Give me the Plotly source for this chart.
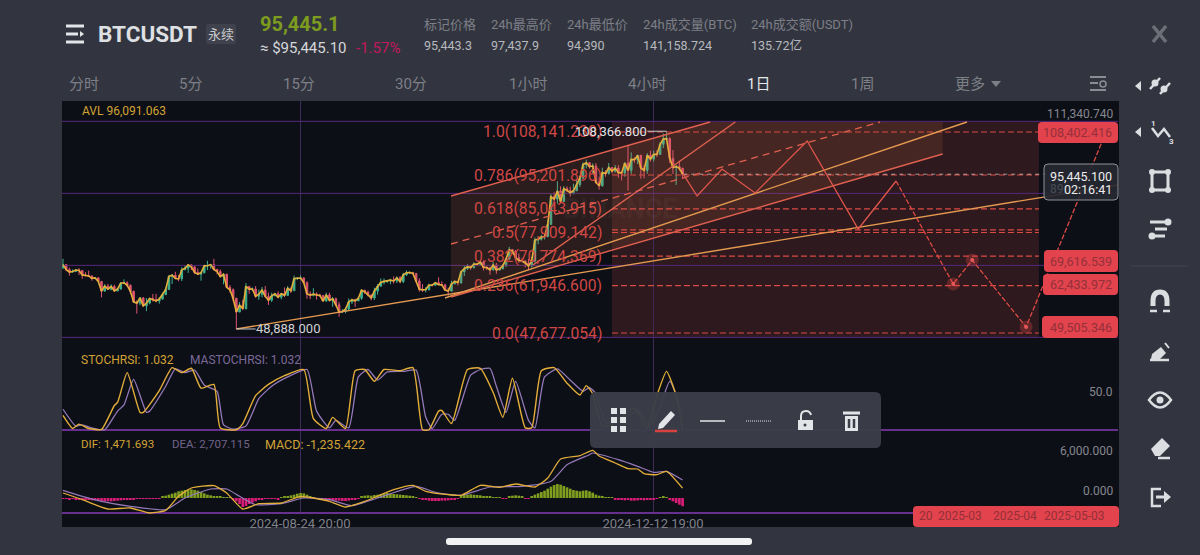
import pandas as pd
import plotly.graph_objects as go

# daily candles
opens = [67300, 68250, 66750, 66000, 66190, 66630, 66490, 65150, 64960, 64830, 64100, 64250, 63180, 60270, 61800, 60860, 61670, 60310, 60920,
    62670, 62770, 62020, 60200, 57050, 56640, 58230, 55850, 56700, 58040, 57720, 57340, 57890, 59200, 60790, 64720, 65040, 64090, 63980, 66690, 67150, 68160, 67540, 65930, 65370, 65770, 67900, 67900, 68250, 66780, 66180,
    64620, 65350, 61420, 60680, 58110, 53990, 56030, 55020, 61680, 60860, 60920, 58710, 59330, 60590, 58680, 57540, 58870, 59490, 58440, 59490, 59010, 61150, 60380, 64040, 64160, 64220, 62820, 59420, 59030, 59370, 59120,
    58970, 57300, 59130, 57480, 57970, 56160, 53950, 54160, 54870, 57050, 57640, 57340, 58130, 60540, 60010, 59130, 58210, 60310, 61760, 62940, 63200, 63350, 63580, 63330, 64260, 63140, 65180, 65780, 65860, 65600,
    63330, 60810, 60650, 60750, 62080, 62060, 62820, 62220, 62130, 60580, 60270, 62440, 63190, 62850, 66050, 67040, 67610, 67370, 68420, 68360, 69000, 67360, 67360, 66650, 68160, 66640, 67010, 67930, 69900, 72720, 72340,
    70290, 69500, 69350, 68740, 67800, 69360, 75640, 75900, 76540, 76680, 80370, 88650, 87950, 90370, 87250, 91060, 90580, 89850, 90460, 92310, 94290, 98350, 98900, 97700, 97900, 93010, 91960, 95960, 95640, 97440,
    96400, 97280, 95860, 95840, 98770, 96600, 99880, 99830, 101110, 97320, 96590, 101130, 99980, 101420, 101400, 104450, 106060, 106130, 100200, 97460, 97750, 97220]
highs = [70000, 68450, 67350, 66800, 66950, 67200, 65700, 66000, 66450, 65050, 64500, 64500, 63350, 62350, 62450, 62300, 62200, 61200, 63000,
    63800, 63250, 62300, 60450, 57500, 58500, 58450, 58200, 58300, 59450, 59450, 58500, 59800, 61400, 65000, 65400, 66100, 65100, 67450, 67800, 68400, 68450, 67800, 67100, 66100, 68200, 69400, 68300, 70000, 67000, 66800,
    65600, 65550, 62100, 61100, 58300, 57000, 57700, 62700, 61700, 61400, 61800, 60700, 61500, 61800, 59800, 59800, 59600, 60200, 59600, 61400, 61800, 61400, 64950, 64500, 65000, 64450, 63200, 60200, 61150, 59900, 59450,
    59000, 59800, 59800, 58500, 58300, 57000, 54850, 55300, 58100, 58000, 58000, 58600, 60650, 60650, 60400, 59200, 61300, 62400, 64100, 64100, 63550, 64000, 64700, 64700, 64800, 65800, 66500, 66250, 66050, 65600,
    64150, 62400, 61450, 62500, 62400, 63000, 64450, 63200, 62500, 61300, 63400, 63450, 63300, 66450, 67900, 68400, 68000, 68950, 68650, 69400, 69500, 67800, 67450, 69000, 68750, 67300, 68300, 70200, 73600, 72950, 72650,
    71600, 70300, 69450, 70000, 70550, 76400, 76800, 77200, 77000, 81500, 89500, 90000, 93300, 91800, 91850, 91800, 91700, 92600, 94000, 94900, 99000, 99800, 99000, 98700, 98800, 94700, 97400, 96650, 98800, 97450,
    98200, 98200, 96300, 99000, 104000, 102000, 100500, 101300, 101300, 98200, 101800, 102500, 102500, 102600, 105100, 107700, 108366, 106500, 102700, 98200, 99500, 97400]
lows = [66900, 66300, 64900, 65900, 66000, 65100, 64000, 64650, 64500, 63400, 63900, 63180, 58400, 60250, 60600, 60500, 60000, 60300, 60700,
    62450, 61750, 59400, 56800, 53500, 56000, 55700, 54250, 56300, 57100, 56900, 56500, 57700, 59200, 60600, 62400, 63900, 63200, 63300, 66600, 65750, 66600, 65400, 65100, 63400, 65700, 66600, 67000, 66500, 65300, 64500,
    62300, 61200, 59850, 57200, 48888, 53950, 54500, 54700, 59500, 60250, 58300, 57650, 58400, 58400, 56100, 57000, 58750, 58400, 57800, 58500, 58800, 59700, 60350, 63600, 63800, 62800, 58000, 57850, 58700, 57750, 58500,
    57200, 57100, 57200, 55550, 55650, 52550, 53750, 53600, 54550, 56400, 55550, 57300, 57650, 59450, 58700, 57500, 57600, 59200, 61700, 62300, 62750, 62350, 62550, 62700, 62650, 62700, 64800, 65400, 65400, 62900,
    60100, 60000, 59900, 60400, 61700, 61800, 62100, 61800, 60300, 58900, 60400, 62400, 62000, 62400, 64800, 66700, 66700, 67000, 67900, 68100, 66500, 66600, 65200, 66500, 65500, 66500, 66800, 67500, 69700, 71400, 69600,
    68800, 68900, 67400, 66700, 67400, 68800, 74400, 75500, 75800, 76500, 80200, 85100, 86600, 86650, 87100, 90100, 88700, 89350, 90900, 91600, 94000, 97200, 97100, 95700, 92600, 90800, 91700, 94700, 95300, 95700,
    95900, 94400, 93600, 94700, 90500, 95500, 98900, 98500, 94100, 94200, 95600, 99300, 99200, 100600, 101200, 103300, 105300, 98800, 95500, 92200, 96500, 94390]
closes = [68250, 66750, 66000, 66190, 66630, 66490, 65150, 64960, 64830, 64100, 64250, 63180, 60270, 61800, 60860, 61670, 60310, 60920, 62670,
    62770, 62020, 60200, 57050, 56640, 58230, 55850, 56700, 58040, 57720, 57340, 57890, 59200, 60790, 64720, 65040, 64090, 63980, 66690, 67150, 68160, 67540, 65930, 65370, 65770, 67900, 67900, 68250, 66780, 66180, 64620,
    65350, 61420, 60680, 58110, 53990, 56030, 55020, 61680, 60860, 60920, 58710, 59330, 60590, 58680, 57540, 58870, 59490, 58440, 59490, 59010, 61150, 60380, 64040, 64160, 64220, 62820, 59420, 59030, 59370, 59120, 58970,
    57300, 59130, 57480, 57970, 56160, 53950, 54160, 54870, 57050, 57640, 57340, 58130, 60540, 60010, 59130, 58210, 60310, 61760, 62940, 63200, 63350, 63580, 63330, 64260, 63140, 65180, 65780, 65860, 65600, 63330,
    60810, 60650, 60750, 62080, 62060, 62820, 62220, 62130, 60580, 60270, 62440, 63190, 62850, 66050, 67040, 67610, 67370, 68420, 68360, 69000, 67360, 67360, 66650, 68160, 66640, 67010, 67930, 69900, 72720, 72340, 70290,
    69500, 69350, 68740, 67800, 69360, 75640, 75900, 76540, 76680, 80370, 88650, 87950, 90370, 87250, 91060, 90580, 89850, 90460, 92310, 94290, 98350, 98900, 97700, 97900, 93010, 91960, 95960, 95640, 97440, 96400,
    97280, 95860, 95840, 98770, 96600, 99880, 99830, 101110, 97320, 96590, 101130, 99980, 101420, 101400, 104450, 106060, 106130, 100200, 97460, 97750, 97220, 95445]
dates = pd.date_range("2024-06-12", periods=len(closes))

# indicator key points: index of the day, value
stoch_days = [0, 3, 5, 8, 12, 16, 17, 20, 24, 25, 30, 34, 37, 40, 43, 47, 49, 54, 56, 60, 64, 69, 75, 78, 82, 84, 88, 91, 94, 97, 100, 105, 109, 112, 114, 117, 118, 121, 126, 130, 134, 137, 140, 144, 146, 149, 153, 157, 161, 163, 165, 168, 171, 178, 182, 185, 188, 191, 193]
stoch = [23, 2, 9, 2, 0.5, 39, 44, 92, 28, 28, 63, 100, 92, 99, 67, 73, 3, 0, 10, 55, 73, 87, 97, 18, 2, 20, 2, 95, 97, 78, 97, 95, 100, 0, 0, 30, 31, 10, 97, 99, 60, 20, 83, 3, 3, 95, 100, 75, 56, 71, 58, 6, 8, 35, 3, 55, 94, 55, 1]
mastoch_days = [0, 4, 6, 9, 13, 17, 19, 22, 26, 27, 32, 35, 38, 41, 44, 48, 50, 53, 57, 61, 65, 70, 76, 79, 83, 85, 89, 92, 95, 98, 101, 106, 110, 113, 115, 118, 120, 122, 127, 130, 133, 135, 138, 141, 145, 147, 150, 154, 158, 162, 164, 166, 169, 172, 179, 183, 186, 189, 193]
mastoch = [33, 6, 8, 3, 0, 30, 40, 81, 28, 30, 70, 98, 92, 96, 72, 62, 8, 1, 6, 50, 70, 85, 97, 30, 3, 15, 3, 85, 97, 80, 93, 94, 96, 20, 2, 25, 25, 15, 88, 97, 99, 70, 28, 78, 15, 3, 85, 98, 80, 62, 68, 58, 12, 10, 30, 8, 38, 78, 25]
dif_days = [0, 6, 10, 14, 21, 27, 32, 36, 40, 47, 51, 56, 61, 68, 74, 78, 83, 88, 94, 103, 109, 113, 120, 124, 130, 136, 141, 147, 151, 155, 161, 165, 167, 172, 176, 179, 181, 185, 188, 193]
dif = [750, -250, -1000, -1650, -1500, -2250, -1850, 250, 1500, 1850, 750, -1650, -850, -750, 250, 0, -500, -1350, -500, 1250, 1900, 1000, 500, 400, 1900, 1600, 2100, 1650, 3000, 5850, 6350, 7150, 6300, 5250, 4400, 4350, 3650, 3500, 4000, 1471]
dea_days = [0, 6, 12, 21, 32, 38, 46, 51, 55, 60, 68, 75, 83, 90, 98, 110, 116, 124, 133, 143, 152, 157, 164, 165, 173, 179, 184, 188, 193]
dea = [1150, 250, -500, -1250, -1750, 0, 1350, 1350, 250, -1000, -850, 0, -250, -1150, 0, 1750, 850, 400, 1650, 1750, 2500, 5000, 6500, 6750, 5750, 4750, 3850, 4000, 2707]
macd = [-150, -100, -200, -150, -200, -250, -250, -300, -300, -350, -350, -400, -450, -500, -500, -500, -450, -400, -350, -300, -250, -200, -200, -150, -100, -100, -100, -100, -80, -100, -100,
    200, 350, 500, 650, 800, 1000, 1100, 1200, 1300, 1300, 1200, 1100, 900, 700, 500, 400, 300, 250, 200, 100, 80, 60,
    -200, -500, -900, -1350, -1200, -900, -700, -500, -300, -200, -100, -80, -100, -150, -200,
    150, 250, 300, 400, 500, 650, 750, 700, 500, 300, 100,
    -100, -200, -250, -300, -350, -400, -400, -400, -450, -450, -400, -300, -250, -150,
    200, 350, 400, 350, 450, 500, 600, 700, 750, 700, 600, 550, 500, 450, 400, 350, 250, 150,
    -100, -200, -300, -400, -450, -450, -450, -400, -400, -350, -300, -250, -150,
    300, 500, 500, 550, 500, 450, 400, 300, 250, 200, 150, 100, 80, -100, -150, 250, 350, 400, 350, 200, -150, -100,
    300, 500, 700, 900, 1100, 1400, 1700, 1950, 2100, 2000, 1800, 1600, 1400, 1200, 1100, 1000, 1100, 1150, 1000, 800, 500, 350, 250, 150, 100, 60,
    -200, -250, -300, -350, -300, -400, -400, -350, -300, -350, -300, -250, -200, -150, 150, 200, 150, -300, -500, -750, -1000, -1235]

# drawings on the price panel
fib_levels = [108141.23, 95201.896, 85043.915, 78700, 77909.142, 70774.369, 61946.6, 47677.054]
fib_labels = ["1.0(108,141.230)", "0.786(95,201.896)", "0.618(85,043.915)", "", "0.5(77,909.142)", "0.382(70,774.369)", "0.236(61,946.600)", "0.0(47,677.054)"]
fib_x = ["2024-11-30", "2025-04-12"]
box_top, box_bottom = 111340.74, 46360
price_grid = [111340.74, 89680, 68020, 46360]
channel_x = ["2024-10-10 21:00", "2024-12-30 14:00", "2025-03-13", "2025-03-13", "2024-10-10 21:00"]
channel_y = [88887, 111146, 111146, 101520, 58506]
mid_x, mid_y = ["2024-10-10 21:00", "2025-02-21 12:00"], [74448, 111146]
trend_orange = [(["2024-08-05", "2025-05-06 15:00"], [48888, 92195]), (["2024-10-09", "2025-03-20 14:00"], [58205, 111146])]
trend_red = [(["2024-11-05 10:00", "2025-01-07 10:00"], [68131, 111146]), (["2024-10-10 21:00", "2024-12-30 14:00"], [88887, 111146]), (["2024-10-10 21:00", "2025-03-13"], [58506, 101520])]
path_x = ["2024-12-22 05:00", "2024-12-26 12:00", "2025-01-03 07:00", "2025-01-13 14:00", "2025-01-29 19:00", "2025-02-14 17:00", "2025-02-26 12:00", "2025-03-16 07:00", "2025-03-22 05:00", "2025-04-08", "2025-05-03"]
path_y = [95445, 88887, 97008, 89789, 105431, 78960, 93399, 62433.972, 69616.539, 49505.346, 108402.416]
last_price = 95445.1

W, H = 1200, 555
BG = "#32353f"
PANEL = "#0d0f17"
RED = "#dc4a44"
ORANGE = "#e59a50"
YELLOW = "#e3ae3a"
PURPLE = "#9479b8"
TEXT = "Roboto, 'Noto Sans CJK SC', sans-serif"
shapes = []
notes = []


def fx(x):
    return x / W


def fy(y):
    return 1 - y / H


def text(x, y, s, size=12, color="#8a8c94", anchor="left", bold=False):
    notes.append(dict(x=fx(x), y=fy(y), xref="paper", yref="paper", text=f"<b>{s}</b>" if bold else s, showarrow=False,
                      xanchor=anchor, yanchor="middle", borderpad=0, borderwidth=0, font=dict(size=size, color=color, family=TEXT)))


def rbox(x0, y0, x1, y1, r, fill, line=None, layer="above"):
    p = (f"M{fx(x0 + r)},{fy(y0)} L{fx(x1 - r)},{fy(y0)} Q{fx(x1)},{fy(y0)} {fx(x1)},{fy(y0 + r)} "
         f"L{fx(x1)},{fy(y1 - r)} Q{fx(x1)},{fy(y1)} {fx(x1 - r)},{fy(y1)} L{fx(x0 + r)},{fy(y1)} "
         f"Q{fx(x0)},{fy(y1)} {fx(x0)},{fy(y1 - r)} L{fx(x0)},{fy(y0 + r)} Q{fx(x0)},{fy(y0)} {fx(x0 + r)},{fy(y0)} Z")
    shapes.append(dict(type="path", path=p, xref="paper", yref="paper", fillcolor=fill, layer=layer,
                       line=dict(color=line or "rgba(0,0,0,0)", width=1)))


def poly(pts, fill=None, line=None, w=2, close=True):
    p = "M" + " L".join(f"{fx(a)},{fy(b)}" for a, b in pts) + (" Z" if close else "")
    shapes.append(dict(type="path", path=p, xref="paper", yref="paper", fillcolor=fill or "rgba(0,0,0,0)", layer="above",
                       line=dict(color=line or "rgba(0,0,0,0)", width=w)))


def dot(x, y, r, fill=None, line=None, w=2):
    shapes.append(dict(type="circle", xref="paper", yref="paper", x0=fx(x - r), x1=fx(x + r), y0=fy(y + r), y1=fy(y - r),
                       fillcolor=fill or "rgba(0,0,0,0)", layer="above", line=dict(color=line or "rgba(0,0,0,0)", width=w)))


fig = go.Figure()

# price grid as lines, they came out grey as axis grid
for level in price_grid:
    fig.add_trace(go.Scatter(x=["2024-06-11 16:40", "2025-05-06 15:00"], y=[level, level], mode="lines", line=dict(color="#55297a", width=1), yaxis="y"))

# shaded zones first so the candles stay on top
fig.add_trace(go.Scatter(x=channel_x, y=channel_y, fill="toself", fillcolor="rgba(226,120,70,0.14)", mode="none", yaxis="y"))
shapes.append(dict(type="rect", xref="x", yref="y", x0=fib_x[0], x1=fib_x[1], y0=box_bottom, y1=box_top,
                   fillcolor="rgba(205,80,65,0.17)", line=dict(width=0), layer="below"))

for level in fib_levels:
    fig.add_trace(go.Scatter(x=fib_x, y=[level, level], mode="lines", line=dict(color=RED, width=1.2, dash="6px,3px"), yaxis="y"))
fig.add_trace(go.Scatter(x=[path_x[0], "2025-05-06"], y=[last_price, last_price], mode="lines",
                         line=dict(color="rgba(255,255,255,0.55)", width=1, dash="4px,4px"), yaxis="y"))

fig.add_trace(go.Candlestick(x=dates, open=opens, high=highs, low=lows, close=closes, yaxis="y",
                             increasing=dict(line=dict(color="#3fb08d", width=1), fillcolor="#3fb08d"),
                             decreasing=dict(line=dict(color="#dd5470", width=1), fillcolor="#dd5470")))
fig.add_trace(go.Scatter(x=dates, y=closes, mode="lines", line=dict(color=YELLOW, width=1.6), yaxis="y"))

for tx, ty in trend_orange:
    fig.add_trace(go.Scatter(x=tx, y=ty, mode="lines", line=dict(color=ORANGE, width=1.4), yaxis="y"))
for tx, ty in trend_red:
    fig.add_trace(go.Scatter(x=tx, y=ty, mode="lines", line=dict(color="#e0604f", width=1.4), yaxis="y"))
fig.add_trace(go.Scatter(x=mid_x, y=mid_y, mode="lines", line=dict(color="#e0604f", width=1.3, dash="7px,5px"), yaxis="y"))

fig.add_trace(go.Scatter(x=path_x[:7], y=path_y[:7], mode="lines", line=dict(color="#e0564c", width=1.3), yaxis="y"))
fig.add_trace(go.Scatter(x=path_x[6:], y=path_y[6:], mode="lines", line=dict(color=RED, width=1.3, dash="5px,2px"), yaxis="y"))
fig.add_trace(go.Scatter(x=path_x[7:10], y=path_y[7:10], mode="markers", marker=dict(color="rgba(224,70,70,0.3)", size=13), yaxis="y"))
fig.add_trace(go.Scatter(x=path_x[7:10], y=path_y[7:10], mode="markers", marker=dict(color="#e8585a", size=4), yaxis="y"))

# extreme price markers
fig.add_trace(go.Scatter(x=["2024-08-05", "2024-08-11"], y=[48888, 48888], mode="lines", line=dict(color="#c9cacd", width=1), yaxis="y"))
fig.add_trace(go.Scatter(x=["2024-12-11", "2024-12-17"], y=[108366.8, 108366.8], mode="lines", line=dict(color="#c9cacd", width=1), yaxis="y"))

fig.add_trace(go.Scatter(x=dates[mastoch_days], y=mastoch, mode="lines", line=dict(color=PURPLE, width=1.3, shape="spline", smoothing=0.5), yaxis="y2"))
fig.add_trace(go.Scatter(x=dates[stoch_days], y=stoch, mode="lines", line=dict(color=YELLOW, width=1.4, shape="spline", smoothing=0.5), yaxis="y2"))

fig.add_trace(go.Bar(x=dates, y=macd, width=72000000, marker=dict(color=["#7f9e1f" if v > 0 else "#d81c78" for v in macd], line=dict(width=0)), yaxis="y3"))
fig.add_trace(go.Scatter(x=dates[dea_days], y=dea, mode="lines", line=dict(color=PURPLE, width=1.2, shape="spline", smoothing=0.5), yaxis="y3"))
fig.add_trace(go.Scatter(x=dates[dif_days], y=dif, mode="lines", line=dict(color=YELLOW, width=1.3, shape="spline", smoothing=0.5), yaxis="y3"))


# panel labels that follow the scales
def axis_label(y, yref, s, color="#85878f"):
    notes.append(dict(x=fx(1113), y=y, xref="paper", yref=yref, yshift=7, text=s, showarrow=False, xanchor="right", yanchor="middle",
                      borderpad=0, borderwidth=0, font=dict(size=12, color=color, family=TEXT)))


axis_label(111340.74, "y", "111,340.740")
axis_label(50, "y2", "50.0")
axis_label(6000, "y3", "6,000.000")
axis_label(0, "y3", "0.000")

for level, label in zip(fib_levels, fib_labels):
    notes.append(dict(x=fx(602), y=level, xref="paper", yref="y", text=label, showarrow=False, xanchor="right", yanchor="middle",
                      borderpad=0, borderwidth=0, font=dict(size=15.7, color="#cf4744", family=TEXT)))
notes.append(dict(x="2024-12-11", y=108366.8, xref="x", yref="y", text="108,366.800", showarrow=False, xanchor="right", yanchor="middle",
                  borderpad=0, borderwidth=0, font=dict(size=13, color="#e2e3e6", family=TEXT)))
notes.append(dict(x="2024-08-11", y=48888, xref="x", yref="y", text="48,888.000", showarrow=False, xanchor="left", yanchor="middle",
                  borderpad=0, borderwidth=0, font=dict(size=13, color="#d0d1d4", family=TEXT)))

text(620, 209, "BINANCE", 27, "rgba(255,255,255,0.05)", "center", True)
text(82, 111, "AVL 96,091.063", 12, "#d2a334")
text(81, 360, "STOCHRSI: 1.032", 12, "#d2a334")
text(190, 360, "MASTOCHRSI: 1.032", 12, "#7b6a98")
text(81, 444, "DIF: 1,471.693", 11.5, "#d2a334")
text(172, 444, "DEA: 2,707.115", 11.5, "#6f6488")
text(265, 444, "MACD: -1,235.422", 12.5, "#d2a334")

# header
poly([(66, 26), (84, 26)], line="#e4e5e8", w=3, close=False)
poly([(66, 34), (78, 34)], line="#e4e5e8", w=3, close=False)
poly([(66, 42), (84, 42)], line="#e4e5e8", w=3, close=False)
poly([(80, 31), (84, 34), (80, 37)], fill="#e4e5e8")
text(98, 34, "BTCUSDT", 22.5, "#dfe0e3", bold=True)
rbox(206, 24, 236, 44, 2, "#3f424c")
text(221, 34, "永续", 13, "#c9cacd", "center")
text(260, 24, "95,445.1", 20, "#7d9b1e", bold=True)
text(260, 48, "≈ $95,445.10", 15, "#d6d7da")
text(356, 48, "-1.57%", 15, "#c2185b")
stat_x = [424, 491, 567, 643, 751]
stat_names = ["标记价格", "24h最高价", "24h最低价", "24h成交量(BTC)", "24h成交额(USDT)"]
stat_vals = ["95,443.3", "97,437.9", "94,390", "141,158.724", "135.72亿"]
for sx, sn, sv in zip(stat_x, stat_names, stat_vals):
    text(sx, 24, sn, 13, "#7d7f87")
    text(sx, 45, sv, 12.5, "#b7b9be")

tab_x = [84, 190, 299, 411, 528, 647, 759, 862, 970]
tab_names = ["分时", "5分", "15分", "30分", "1小时", "4小时", "1日", "1周", "更多"]
for tx, tn in zip(tab_x, tab_names):
    text(tx, 84, tn, 15, "#e6e7ea" if tn == "1日" else "#7d7f87", "center")
poly([(991, 81), (1001, 81), (996, 87)], fill="#7d7f87")
poly([(1090, 77), (1106, 77)], line="#8a8c94", w=2, close=False)
poly([(1090, 83), (1098, 83)], line="#8a8c94", w=2, close=False)
poly([(1090, 90), (1106, 90)], line="#8a8c94", w=2, close=False)
dot(1103, 84, 3, None, "#8a8c94", 1.5)

# price tags on the right edge
tag_box = [(1038, 122, 1118, 143), (1044, 250, 1118, 272), (1043, 274, 1118, 295), (1042, 316, 1118, 338)]
tag_text = ["108,402.416", "69,616.539", "62,433.972", "49,505.346"]
for (a, b, c, d), s in zip(tag_box, tag_text):
    rbox(a, b, c, d, 4, "#e2434c")
    text(1112, (b + d) / 2, s, 12.5, "#94303a", "right")
rbox(1044, 164, 1118, 200, 4, "rgba(38,40,50,0.92)", "#8f9198")
text(1050, 189, "89", 12, "#4a4c55")
text(1112, 176, "95,445.100", 12.5, "#eceded", "right")
text(1112, 189, "02:16:41", 12.5, "#eceded", "right")
rbox(913, 506, 1119, 527, 4, "#e2434c")
for dx, ds in zip([919, 938, 993, 1044], ["20", "2025-03", "2025-04", "2025-05-03"]):
    text(dx, 516, ds, 12, "#94303a")

# floating tool bar
rbox(590, 392, 881, 448, 6, "rgba(59,62,72,0.97)")
for gx in (614, 623):
    for gy in (411, 420, 429):
        poly([(gx - 3, gy - 3), (gx + 3, gy - 3), (gx + 3, gy + 3), (gx - 3, gy + 3)], fill="#e3e4e7", w=0)
poly([(659, 424), (671, 411), (675, 415), (663, 428), (658, 429)], fill="#e3e4e7")
poly([(655, 431), (677, 431)], line="#d9413f", w=2.5, close=False)
poly([(700, 421), (725, 421)], line="#e3e4e7", w=1.5, close=False)
shapes.append(dict(type="line", xref="paper", yref="paper", x0=fx(746), x1=fx(771), y0=fy(421), y1=fy(421), layer="above",
                   line=dict(color="#e3e4e7", width=1.2, dash="1px,1px")))
poly([(798, 420), (813, 420), (813, 430), (798, 430)], fill="#e3e4e7")
shapes.append(dict(type="path", xref="paper", yref="paper", layer="above", fillcolor="rgba(0,0,0,0)", line=dict(color="#e3e4e7", width=2),
                   path=f"M{fx(801)},{fy(420)} L{fx(801)},{fy(416)} Q{fx(801)},{fy(411)} {fx(806)},{fy(411)} Q{fx(810)},{fy(411)} {fx(811)},{fy(415)}"))
dot(805, 425, 1.5, "#3b3e48")
poly([(843, 413), (860, 413)], line="#e3e4e7", w=3, close=False)
poly([(845, 416), (858, 416), (858, 431), (845, 431)], fill="#e3e4e7")
poly([(849, 419), (849, 428)], line="#3b3e48", w=2.5, close=False)
poly([(854, 419), (854, 428)], line="#3b3e48", w=2.5, close=False)

# side tool strip
IC = "#dcdde0"
poly([(1153, 34 - 8), (1166, 34 + 8)], line="#6d6f78", w=3.5, close=False)
poly([(1166, 34 - 8), (1153, 34 + 8)], line="#6d6f78", w=3.5, close=False)
poly([(1141, 81), (1141, 91), (1135, 86)], fill=IC)
poly([(1141, 127), (1141, 137), (1135, 132)], fill=IC)
dot(1155, 83, 3.5, IC)
dot(1164, 89, 3.5, IC)
poly([(1150, 89), (1160, 78)], line=IC, w=2.5, close=False)
poly([(1160, 94), (1170, 83)], line=IC, w=2.5, close=False)
poly([(1152, 128), (1158, 136), (1164, 129), (1170, 137)], line=IC, w=2.5, close=False)
text(1153, 124, "1", 8, IC, "center", True)
text(1171, 141, "3", 8, IC, "center", True)
poly([(1152, 172), (1168, 172), (1168, 190), (1152, 190)], line=IC, w=3)
for cx, cy in [(1152, 172), (1168, 172), (1152, 190), (1168, 190)]:
    dot(cx, cy, 3, IC)
poly([(1150, 222), (1168, 222)], line=IC, w=3, close=False)
poly([(1155, 229), (1167, 229)], line=IC, w=3, close=False)
poly([(1152, 236), (1165, 236)], line=IC, w=3, close=False)
dot(1168, 222, 3.5, IC)
dot(1152, 236, 3.5, IC)
poly([(1131, 266), (1188, 266)], line="#44464f", w=1, close=False)
shapes.append(dict(type="path", xref="paper", yref="paper", layer="above", fillcolor="rgba(0,0,0,0)", line=dict(color=IC, width=5),
                   path=f"M{fx(1153)},{fy(306)} L{fx(1153)},{fy(301)} Q{fx(1153)},{fy(292)} {fx(1160)},{fy(292)} Q{fx(1167)},{fy(292)} {fx(1167)},{fy(301)} L{fx(1167)},{fy(306)}"))
poly([(1150, 311), (1157, 311)], line=IC, w=2.5, close=False)
poly([(1163, 311), (1170, 311)], line=IC, w=2.5, close=False)
poly([(1151, 359), (1152, 354), (1161, 347), (1166, 353), (1160, 359)], fill=IC)
poly([(1150, 360), (1169, 360)], line=IC, w=2.5, close=False)
poly([(1165, 343), (1169, 348)], line=IC, w=2, close=False)
shapes.append(dict(type="path", xref="paper", yref="paper", layer="above", fillcolor="rgba(0,0,0,0)", line=dict(color=IC, width=2.5),
                   path=f"M{fx(1149)},{fy(400)} Q{fx(1160)},{fy(385)} {fx(1171)},{fy(400)} Q{fx(1160)},{fy(415)} {fx(1149)},{fy(400)} Z"))
dot(1160, 400, 3.5, IC)
poly([(1151, 449), (1162, 438), (1170, 446), (1160, 456), (1155, 456)], fill=IC)
poly([(1158, 458), (1170, 458)], line=IC, w=2.5, close=False)
poly([(1161, 489), (1152, 489), (1152, 506), (1161, 506)], line=IC, w=2.5, close=False)
poly([(1156, 497), (1165, 497)], line=IC, w=3, close=False)
poly([(1164, 491), (1171, 497), (1164, 503)], fill=IC)

# phone home indicator
rbox(446, 538, 752, 545, 3, "#f2f2f2")
rbox(62, 101, 1119, 527, 0, PANEL, layer="below")

x_range = ["2024-06-11 16:40", "2025-05-06 15:00"]
fig.update_layout(
    width=W, height=H, autosize=False, margin=dict(l=0, r=0, t=0, b=0), showlegend=False, hovermode=False, dragmode=False,
    paper_bgcolor=BG, plot_bgcolor=PANEL, barmode="overlay", shapes=shapes, annotations=notes,
    xaxis=dict(domain=[fx(62), fx(1118)], anchor="y3", type="date", range=x_range, rangeslider=dict(visible=False),
               tickmode="array", tickvals=["2024-08-24 20:00", "2024-12-12 19:00"], ticktext=["2024-08-24 20:00", "2024-12-12 19:00"],
               showgrid=True, gridcolor="#3f2a58", gridwidth=1, zeroline=False, ticks="", showline=False,
               tickfont=dict(size=13, color="#7f8189", family=TEXT)),
    yaxis=dict(domain=[fy(349), fy(101)], range=[42864, 117463], showticklabels=False, showgrid=False, zeroline=False, ticks=""),
    yaxis2=dict(domain=[fy(431), fy(349)], range=[-2, 130], tickmode="array", tickvals=[0], showticklabels=False,
                showgrid=True, gridcolor="#68308e", gridwidth=1.5, zeroline=False, ticks=""),
    yaxis3=dict(domain=[fy(514), fy(431)], range=[-2400, 10050], tickmode="array", tickvals=[-2250], showticklabels=False,
                showgrid=True, gridcolor="#68308e", gridwidth=1.5, zeroline=False, ticks=""),
)

# the page's default body margin would shift the 1200x555 figure
fig.write_html("out.html", config={"displayModeBar": False}, post_script="document.body.style.margin='0';")
